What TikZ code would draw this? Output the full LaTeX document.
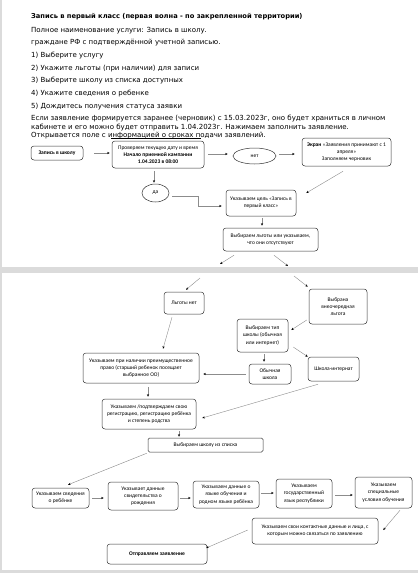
\documentclass[tikz,border=0pt]{standalone}
\usepackage{fontspec}
\setmainfont{DejaVu Sans}
\newfontfamily\boxfont{Carlito}
\usetikzlibrary{arrows.meta,calc,shapes.geometric}
\begin{document}
\begin{tikzpicture}[x=1pt,y=-1pt,
 bx/.style={draw=black!80, line width=0.5pt, rounded corners=3pt, align=center,
   font=\boxfont\fontsize{5.5}{7.2}\selectfont, inner sep=1pt},
 el/.style={ellipse, draw=black!80, line width=0.5pt, align=center,
   font=\boxfont\fontsize{5.5}{7.2}\selectfont, inner sep=0pt},
 wh/.style 2 args={minimum width=#1, minimum height=#2},
 ar/.style={draw=black!45, line width=0.4pt, -{Stealth[black,length=2.6pt,width=2.2pt]}},
 ln/.style={draw=black!45, line width=0.4pt},
 tx/.style={anchor=west, inner sep=0pt, font=\fontsize{7}{8.3}\selectfont}
]
\useasboundingbox (0,0) rectangle (418,573);
\fill[black!14] (0,0) rectangle (418,573);
\fill[white] (2,0) rectangle (418,267);
\fill[white] (2,273) rectangle (418,570);

% ---- header text ----
\node[tx, font=\fontsize{6.7}{8}\selectfont] (t1) at (31,17) {\textbf{Запись в первый класс (первая волна - по закрепленной территории)}};
\node[tx] (t2) at (31,30.5) {Полное наименование услуги: Запись в школу.};
\node[tx] (t3) at (31,43) {граждане РФ с подтверждённой учетной записью.};
\node[tx] (t4) at (31,56) {1) Выберите услугу};
\node[tx] (t5) at (31,68.5) {2) Укажите льготы (при наличии) для записи};
\node[tx] (t6) at (31,81) {3) Выберите школу из списка доступных};
\node[tx] (t7) at (31,94) {4) Укажите сведения о ребенке};
\node[tx] (t8) at (31,106.5) {5) Дождитесь получения статуса заявки};
\node[tx] (t9) at (31,119) {Если заявление формируется заранее (черновик) с 15.03.2023г, оно будет храниться в личном};
\node[tx] (t10) at (31,127.3) {кабинете и его можно будет отправить 1.04.2023г. Нажимаем заполнить заявление.};
\node[tx] (t11) at (31,135.6) {Открывается поле с информацией о сроках подачи заявлений.};
\draw[black, line width=0.4pt] (111,138.3) -- (201,138.3);

% ---- page 1 flowchart ----
\node[bx, wh={52}{14}] (school) at (57,153) {\textbf{Запись в школу}};
\node[bx, wh={92}{27}] (check) at (158,154.5) {Проверяем текущую дату и время\\\textbf{Начало приемной кампании}\\\textbf{1.04.2023 в 08:00}};
\node[el, wh={43}{16}] (net) at (254.5,156) {нет};
\node[bx, wh={89}{28}] (screen) at (346.5,152) {\textbf{Экран} «Заявления принимают с 1\\апреля»\\Заполняем черновик};
\node[el, wh={27}{18}] (da) at (155.5,193) {да};
\node[bx, wh={70}{26}] (goal) at (261,203) {Указываем цель «Запись в\\первый класс»};
\node[bx, wh={95}{23}] (lg) at (270.5,239.5) {Выбираем льготы или указываем,\\что они отсутствуют};
\coordinate (c1) at (220,264);
\coordinate (c2) at (288,266);

\draw[ar] ($(school.east)+(11,0)$) -- ($(check.west)+(-2,-1.5)$);
\draw[ar] ($(check.east)+(4,-0.5)$) -- ($(net.west)+(-5,-2)$);
\draw[ar] ($(net.east)+(3,-2)$) -- ($(screen.west)+(-7,2)$);
\draw[ar] ($(screen.south)+(-3.5,5)$) -- ($(goal.east)+(10,-10)$);
\draw[ar] ($(check.south)+(-4,3)$) -- ($(da.north)+(-1.5,-1)$);
\draw[ar] ($(da.east)+(3,3)$) -- ++(26,0) |- ($(goal.west)+(-4,3)$);
\draw[ar] ($(goal.south)+(1,2)$) -- ($(lg.north)+(-8.5,-2)$);
\draw[ar] ($(lg.south)+(-36.5,4)$) -- (c1);
\draw[ar] ($(lg.south)+(3.5,4)$) -- (c2);

% ---- page 2 flowchart ----
\coordinate (c3) at (200,278);
\coordinate (c4) at (294,276);
\node[bx, wh={40}{22}] (nolg) at (184,303) {Льготы нет};
\node[bx, wh={58}{35}] (vl) at (338,306.5) {Выбрана\\внеочередная\\льгота};
\node[bx, wh={51}{33}] (tip) at (262.5,335.5) {Выбираем тип\\школы (обычная\\или интернет)};
\node[bx, wh={51}{24}] (intern) at (333.5,369) {Школа-интернат};
\node[bx, wh={42}{20}] (obych) at (270,374) {Обычная\\школа};
\node[bx, wh={116}{30}] (pravo) at (141,368) {Указываем при наличии преимущественное\\право (старший ребенок посещает\\выбранное ОО)};
\node[bx, wh={94}{30}] (reg) at (149,414) {Указываем /подтверждаем свою\\регистрацию, регистрацию ребёнка\\и степень родства};
\node[bx, wh={115}{14}, rounded corners=1.5pt] (spisok) at (205.5,445) {Выбираем школу из списка};
\node[bx, wh={57}{20}] (sved) at (60.5,498) {Указываем сведения\\о ребёнке};
\node[bx, wh={70}{28}] (svid) at (143,496) {Указывает данные\\свидетельства о\\рождения};
\node[bx, wh={66}{27}] (yaz) at (226,494.5) {Указываем данные о\\языке обучения и\\родном языке ребёнка};
\node[bx, wh={56}{29}] (gos) at (304,493.5) {Указываем\\государственный\\язык республики};
\node[bx, wh={57}{31}] (spec) at (383.5,492.5) {Указываем\\специальные\\условия обучения};
\node[bx, wh={126}{26}] (kont) at (315,531) {Указываем свои контактные данные и лица, с\\которым можно связаться по заявлению};
\node[bx, wh={100}{20}] (send) at (157,554) {\textbf{Отправляем заявление}};

\draw[ar] (c3) -- ($(nolg.north)+(2,-2)$);
\draw[ar] (c4) -- ($(vl.north west)+(-1,-2)$);
\draw[ar] ($(nolg.south)+(-12,3)$) -- ($(pravo.north)+(22,-4)$);
\draw[ar] ($(vl.west)+(-2,13.5)$) -- ($(tip.east)+(3,-5.5)$);
\draw[ar] ($(tip.east)+(5,11.5)$) -- ($(intern.north west)+(0,0)$);
\draw[ar] ($(tip.south)+(1.5,2)$) -- ($(obych.north)+(-6,-2)$);
\draw[ar] ($(obych.west)+(-3,0)$) -- ($(pravo.east)+(4,6)$);
\draw[ar] ($(intern.south)+(-15.5,3)$) -- ($(reg.east)+(6,4)$);
\draw[ar] ($(pravo.south)+(7,4)$) -- ($(reg.north)+(-1,-2)$);
\draw[ar] ($(reg.south)+(30,2)$) -- ($(spisok.north)+(-26.5,-1)$);
\draw[ar] ($(spisok.south west)+(-1,1)$) -- ($(sved.north)+(7.5,-3)$);
\draw[ar] ($(sved.east)+(3,0)$) -- ($(svid.west)+(-4,2)$);
\draw[ar] ($(svid.east)+(2,2)$) -- ($(yaz.west)+(-2,3.5)$);
\draw[ar] ($(yaz.east)+(2,-1.5)$) -- ($(gos.west)+(-2,-0.5)$);
\draw[ar] ($(gos.east)+(3,1.5)$) -- ($(spec.west)+(-2,2.5)$);
\draw[ar] ($(spec.south)+(16.5,2)$) -- ($(kont.east)+(5,-1)$);
\draw[ar] ($(kont.west)+(-4,-1)$) -- ($(send.east)+(-1,-6)$);
\end{tikzpicture}
\end{document}
